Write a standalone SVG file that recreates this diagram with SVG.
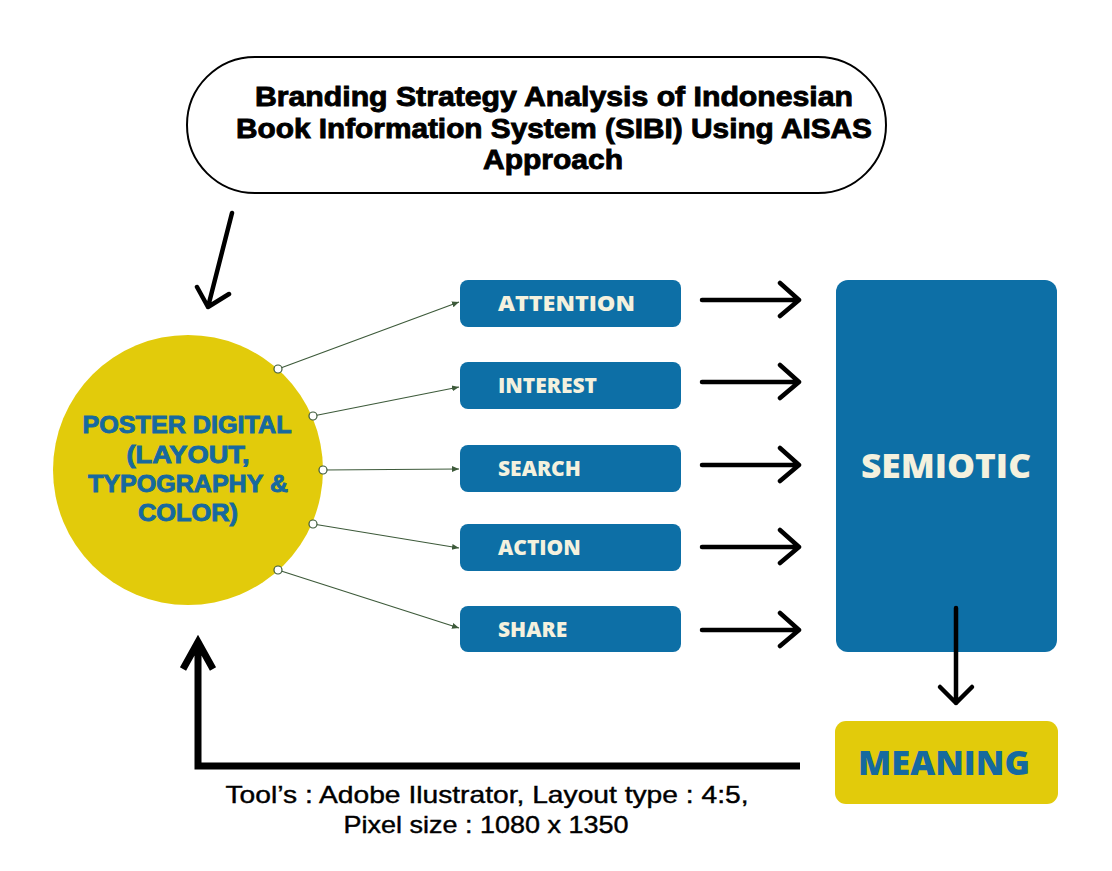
<svg xmlns="http://www.w3.org/2000/svg" width="1112" height="871" viewBox="0 0 1112 871">
<style>
.box{fill:#0d6fa6}
.lbl{font-family:"Open Sans","Liberation Sans",sans-serif;font-weight:800;font-size:21px;fill:#f4f1de}
.big{font-family:"Open Sans","Liberation Sans",sans-serif;font-weight:800;font-size:34px}
.title{font-family:"Liberation Sans",sans-serif;font-weight:bold;font-size:28px;fill:#000;stroke:#000;stroke-width:0.9}
.ctext{font-family:"Liberation Sans",sans-serif;font-weight:bold;font-size:24px;fill:#16699f;stroke:#16699f;stroke-width:0.9}
.foot{font-family:"Liberation Sans",sans-serif;font-size:24px;fill:#000;stroke:#000;stroke-width:0.4}
.thick{fill:none;stroke:#000;stroke-width:4.5;stroke-linecap:round;stroke-linejoin:round}
.thin{fill:none;stroke:#3d5a3a;stroke-width:1.2}
.dot{fill:#fff;stroke:#3d5a3a;stroke-width:1.2}
</style>
<defs>
<marker id="ah" markerWidth="8" markerHeight="8" refX="7" refY="4" orient="auto" markerUnits="userSpaceOnUse">
<path d="M0,1 L7,4 L0,7 z" fill="#3d5a3a"/>
</marker>
</defs>
<rect width="1112" height="871" fill="#fff"/>
<g id="title">
<rect x="187" y="57" width="699" height="136" rx="68" fill="#fff" stroke="#000" stroke-width="2"/>
<text class="title" x="554" y="106" text-anchor="middle" textLength="598" lengthAdjust="spacingAndGlyphs">Branding Strategy Analysis of Indonesian</text>
<text class="title" x="554" y="138" text-anchor="middle" textLength="636" lengthAdjust="spacingAndGlyphs">Book Information System (SIBI) Using AISAS</text>
<text class="title" x="553" y="169" text-anchor="middle" textLength="140" lengthAdjust="spacingAndGlyphs">Approach</text>
</g>
<g id="poster">
<circle cx="188" cy="470" r="135" fill="#e2cb0b"/>
<text class="ctext" x="187" y="433" text-anchor="middle" textLength="209" lengthAdjust="spacingAndGlyphs">POSTER DIGITAL</text>
<text class="ctext" x="188" y="463" text-anchor="middle" textLength="123" lengthAdjust="spacingAndGlyphs">(LAYOUT,</text>
<text class="ctext" x="188" y="492" text-anchor="middle" textLength="200" lengthAdjust="spacingAndGlyphs">TYPOGRAPHY &amp;</text>
<text class="ctext" x="188" y="521" text-anchor="middle" textLength="100" lengthAdjust="spacingAndGlyphs">COLOR)</text>
</g>
<g id="attention"><rect class="box" x="460" y="280" width="221" height="47" rx="8"/><text class="lbl" x="498" y="311" textLength="137" lengthAdjust="spacingAndGlyphs">ATTENTION</text></g>
<g id="interest"><rect class="box" x="460" y="362" width="221" height="47" rx="8"/><text class="lbl" x="498" y="393">INTEREST</text></g>
<g id="search"><rect class="box" x="460" y="445" width="221" height="47" rx="8"/><text class="lbl" x="498" y="476">SEARCH</text></g>
<g id="action"><rect class="box" x="460" y="524" width="221" height="47" rx="8"/><text class="lbl" x="498" y="555">ACTION</text></g>
<g id="share"><rect class="box" x="460" y="606" width="221" height="46" rx="8"/><text class="lbl" x="498" y="637">SHARE</text></g>
<g id="semiotic"><rect class="box" x="836" y="280" width="221" height="372" rx="12"/><text class="big" x="946" y="478" text-anchor="middle" fill="#f4f1de" textLength="170" lengthAdjust="spacingAndGlyphs">SEMIOTIC</text></g>
<g id="meaning"><rect x="835" y="721" width="223" height="83" rx="11" fill="#e2cb0b"/><text class="big" x="944" y="775" text-anchor="middle" fill="#16699f" font-size="37" textLength="172" lengthAdjust="spacingAndGlyphs">MEANING</text></g>
<g id="connectors">
<path class="thick" d="M232,213 L208,307 M197,287 L208,307 L229,294"/>
<line class="thin" x1="278" y1="369" x2="459" y2="302" marker-end="url(#ah)"/>
<line class="thin" x1="313" y1="416" x2="459" y2="387" marker-end="url(#ah)"/>
<line class="thin" x1="323" y1="470" x2="459" y2="469" marker-end="url(#ah)"/>
<line class="thin" x1="313" y1="524" x2="459" y2="548" marker-end="url(#ah)"/>
<line class="thin" x1="278" y1="570" x2="459" y2="628" marker-end="url(#ah)"/>
<circle class="dot" cx="278" cy="369" r="4"/>
<circle class="dot" cx="313" cy="416" r="4"/>
<circle class="dot" cx="323" cy="470" r="4"/>
<circle class="dot" cx="313" cy="524" r="4"/>
<circle class="dot" cx="278" cy="570" r="4"/>
<path class="thick" d="M702,300 L799,300 M780,283 L799,300 L780,316"/>
<path class="thick" d="M702,382 L799,382 M780,365 L799,382 L780,398"/>
<path class="thick" d="M702,465 L799,465 M780,448 L799,465 L780,481"/>
<path class="thick" d="M702,547 L799,547 M780,530 L799,547 L780,563"/>
<path class="thick" d="M702,630 L799,630 M780,613 L799,630 L780,646"/>
<path class="thick" d="M956,608 L956,703 M940,687 L956,703 L972,687"/>
<path d="M800,766 L198,766 L198,642 M183,669 L198,642 L213,669" fill="none" stroke="#000" stroke-width="7" stroke-linejoin="miter" stroke-linecap="butt"/>
</g>
<g id="footer">
<text class="foot" x="487" y="803" text-anchor="middle" textLength="523" lengthAdjust="spacingAndGlyphs">Tool’s : Adobe Ilustrator, Layout type : 4:5,</text>
<text class="foot" x="486" y="833" text-anchor="middle" textLength="285" lengthAdjust="spacingAndGlyphs">Pixel size : 1080 x 1350</text>
</g>
</svg>
